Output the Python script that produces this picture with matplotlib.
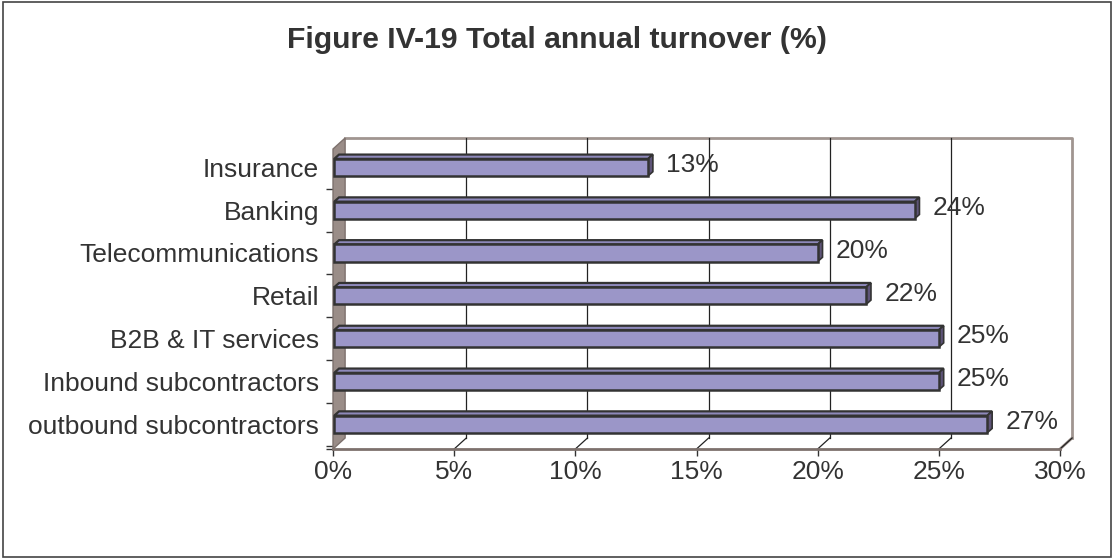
import matplotlib
matplotlib.use("Agg")
import matplotlib.pyplot as plt
from matplotlib.patches import Polygon, Rectangle
from matplotlib.lines import Line2D

plt.rcParams['font.family'] = ['Liberation Sans', 'DejaVu Sans']

title = "Figure IV-19 Total annual turnover (%)"
categories = ["outbound subcontractors", "Inbound subcontractors", "B2B & IT services",
              "Retail", "Telecommunications", "Banking", "Insurance"]
values = [27, 25, 25, 22, 20, 24, 13]
xticks = [0, 5, 10, 15, 20, 25, 30]
xticklabels = ["0%", "5%", "10%", "15%", "20%", "25%", "30%"]

W, H = 1114, 558
fig = plt.figure(figsize=(W / 100, H / 100), dpi=100)

FS = 19

# front plane of the 3D box in pixels
L, R, B, T = 333, 1060, 449, 149
ax = fig.add_axes([L / W, 1 - B / H, (R - L) / W, (B - T) / H])
XMIN, XMAX = 0, 30
YMIN, YMAX = -0.58, 6.43
ax.set_xlim(XMIN, XMAX)
ax.set_ylim(YMIN, YMAX)
for s in ax.spines.values():
    s.set_visible(False)
ax.patch.set_visible(False)

DX, DY = 0.5, 0.257          # depth of the box
wallc = '#9a8d88'
edgec = '#a09590'

# floor
ax.add_patch(Polygon([(XMIN, YMIN), (XMAX, YMIN), (XMAX + DX, YMIN + DY), (XMIN + DX, YMIN + DY)],
                     closed=True, facecolor='white', edgecolor='none', clip_on=False, zorder=1))
# back wall outline (top + right)
ax.add_line(Line2D([XMIN + DX, XMAX + DX, XMAX + DX], [YMAX + DY, YMAX + DY, YMIN + DY],
                   color=edgec, lw=2, clip_on=False, zorder=1))
# floor right edge and front edge
ax.add_line(Line2D([XMAX, XMAX + DX], [YMIN, YMIN + DY], color=edgec, lw=2, clip_on=False, zorder=1))
ax.add_line(Line2D([XMIN, XMAX], [YMIN, YMIN], color='#7d716d', lw=2, clip_on=False, zorder=3))
# left wall
ax.add_patch(Polygon([(XMIN, YMIN), (XMIN + DX, YMIN + DY), (XMIN + DX, YMAX + DY), (XMIN, YMAX)],
                     closed=True, facecolor=wallc, edgecolor='#7d716d', lw=1, clip_on=False, zorder=2))

# gridlines on back wall + floor
for xt in xticks[1:-1]:
    ax.add_line(Line2D([xt + DX, xt + DX], [YMIN + DY, YMAX + DY], color='#222222', lw=0.9,
                       clip_on=False, zorder=1.5))
for xt in xticks[1:]:
    ax.add_line(Line2D([xt, xt + DX], [YMIN, YMIN + DY], color='#222222', lw=0.9,
                       clip_on=False, zorder=1.5))

# bars
h = 0.40
bdx, bdy = 0.2, 0.1
face = '#9b96c8'
topc = '#8e89bb'
sidec = '#5e5478'
ec = '#333333'
for i, v in enumerate(values):
    y0, y1 = i - h / 2, i + h / 2
    ax.add_patch(Polygon([(0.05, y1), (v, y1), (v + bdx, y1 + bdy), (0.05 + bdx, y1 + bdy)],
                         closed=True, facecolor=topc, edgecolor=ec, lw=1.6, zorder=4, clip_on=False))
    ax.add_patch(Polygon([(v, y0), (v + bdx, y0 + bdy), (v + bdx, y1 + bdy), (v, y1)],
                         closed=True, facecolor=sidec, edgecolor=ec, lw=1.2, zorder=4, clip_on=False))
    ax.add_patch(Rectangle((0.05, y0), v - 0.05, h, facecolor=face, edgecolor=ec, lw=1.8,
                           zorder=5, clip_on=False))
    ax.text(v + bdx + 0.55, i + 0.05, f"{v}%", ha='left', va='center', fontsize=FS,
            color='#333333', zorder=6)

# axes ticks
ax.set_xticks(xticks)
ax.set_xticklabels(xticklabels)
ax.tick_params(axis='x', direction='out', length=5, width=1, color='#333333',
               labelsize=FS, labelcolor='#333333', pad=3)
ax.set_yticks(range(len(categories)))
ax.set_yticklabels(categories)
ax.tick_params(axis='y', length=0, labelsize=FS, labelcolor='#333333', pad=10)
ax.set_yticks([k + 0.5 for k in range(-1, len(categories))][:-1] + [YMIN], minor=True)
ax.tick_params(axis='y', which='minor', direction='out', length=5, width=1, color='#333333')

# title
fig.text(0.5, 1 - 48 / H, title, ha='center', va='baseline', fontsize=21.7,
         fontweight='bold', color='#333333')

# outer border
fig.add_artist(Rectangle((3 / W, 1.5 / H), (W - 6) / W, (H - 3.5) / H, transform=fig.transFigure,
                         facecolor='none', edgecolor='#444444', lw=1.2))

fig.savefig("out.png", dpi=100)
